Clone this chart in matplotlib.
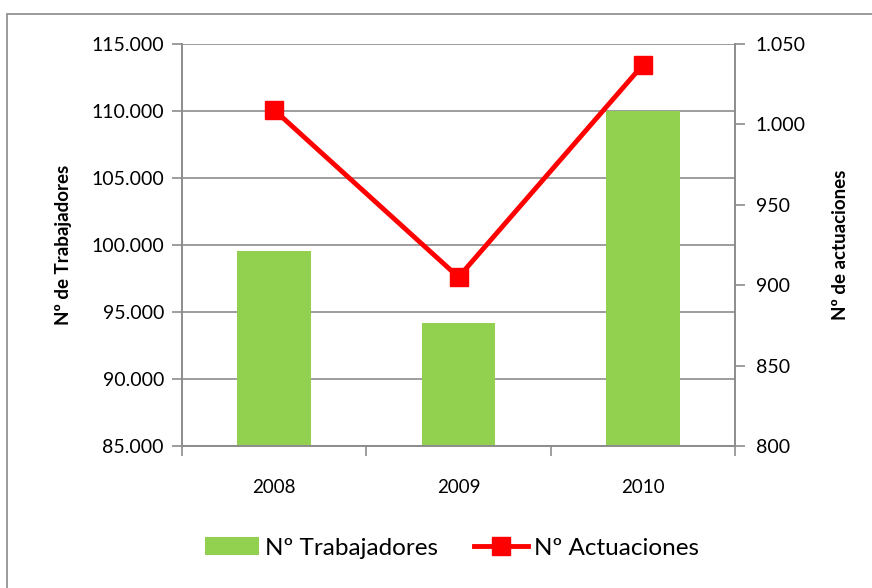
import matplotlib.pyplot as plt
import matplotlib.ticker as mticker
from matplotlib.patches import Rectangle
import numpy as np

years = ["2008", "2009", "2010"]
trabajadores = [99570, 94180, 110030]
actuaciones = [1009, 905, 1037]

plt.rcParams["font.family"] = ["Lato", "DejaVu Sans"]

GREEN = "#92d050"
RED = "#ff0000"
GRID = "#8c8c8c"


def thousands(v, _pos):
    return f"{v:,.0f}".replace(",", ".")


fig = plt.figure(figsize=(8.72, 5.88), dpi=100)
# outer chart border
fig.patches.append(Rectangle((7 / 872, -0.02), 1.0, 1 - 14 / 588 + 0.02,
                             transform=fig.transFigure, fill=False,
                             edgecolor="#8a8a8a", linewidth=1.2))

ax = fig.add_axes([182 / 872, 1 - 446 / 588, (735 - 182) / 872, (446 - 44) / 588])
ax2 = ax.twinx()

x = np.arange(len(years))
bars = ax.bar(x, trabajadores, width=0.4, color=GREEN, zorder=2, label="Nº Trabajadores")
ax.set_xlim(-0.5, 2.5)
ax.set_ylim(85000, 115000)
ax.yaxis.set_major_locator(mticker.MultipleLocator(5000))
ax.yaxis.set_major_formatter(mticker.FuncFormatter(thousands))
ax.grid(axis="y", color=GRID, linewidth=1.2, zorder=0)
ax.set_axisbelow(True)

ax.set_xticks(x)
ax.set_xticklabels(years, fontsize=13.5)
ax.set_xticks([-0.5, 0.5, 1.5, 2.5], minor=True)
ax.tick_params(axis="x", which="major", length=0, pad=24)
ax.tick_params(axis="x", which="minor", length=7, color=GRID, width=1.2)
ax.tick_params(axis="y", length=7, color=GRID, width=1.2, labelsize=14, pad=6)

ax2.plot(x, actuaciones, color=RED, linewidth=3.5, marker="s", markersize=13,
         zorder=3, label="Nº Actuaciones")
ax2.set_ylim(800, 1050)
ax2.yaxis.set_major_locator(mticker.MultipleLocator(50))
ax2.yaxis.set_major_formatter(mticker.FuncFormatter(thousands))
ax2.tick_params(axis="y", length=7, color=GRID, width=1.2, labelsize=14, pad=8)

for a in (ax, ax2):
    a.spines["top"].set_visible(False)
    for side in ("left", "right", "bottom"):
        a.spines[side].set_color(GRID)
        a.spines[side].set_linewidth(1.2)

ax.set_ylabel("Nº de Trabajadores", fontsize=13.5, fontweight="bold")
ax.yaxis.set_label_coords(-0.199, 0.5)
ax2.set_ylabel("Nº de actuaciones", fontsize=13.5, fontweight="bold")
ax2.yaxis.set_label_coords(1.176, 0.5)

handles = [bars, ax2.get_lines()[0]]
labels = ["Nº Trabajadores", "Nº Actuaciones"]
fig.legend(handles, labels, loc="center", bbox_to_anchor=(452 / 872, 1 - 548 / 588),
           ncol=2, frameon=False, fontsize=17.5, handlelength=2.2, handleheight=0.75,
           columnspacing=1.5, handletextpad=0.25)

fig.savefig("out.png", dpi=100)
